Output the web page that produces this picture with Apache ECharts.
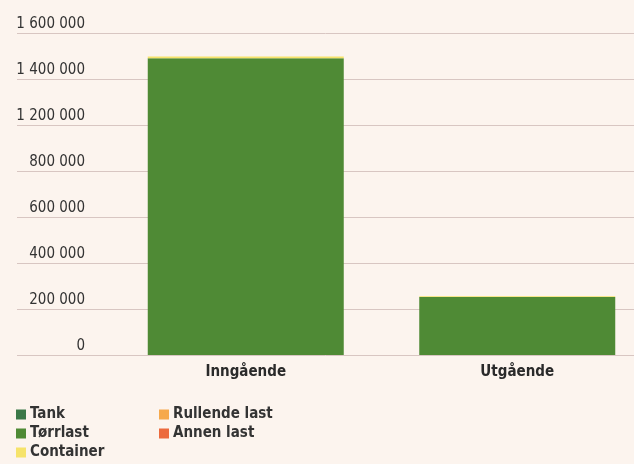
<!DOCTYPE html>
<html><head><meta charset="utf-8">
<script src="https://cdn.jsdelivr.net/npm/echarts@6/dist/echarts.min.js"></script>
<style>html,body{margin:0;padding:0;background:#fcf4ee;}#c{width:634px;height:464px;}</style>
</head><body><div id="c"></div>
<script>
var categories = ['Inngående', 'Utgående'];
var seriesNames = ['Tank', 'Tørrlast', 'Container', 'Rullende last', 'Annen last'];
var tank = [0, 0];
var torrlast = [1290000, 252000];
var container = [8000, 3000];
var rullende = [0, 0];
var annen = [0, 0];
var tickLabels = ['0', '200 000', '400 000', '600 000', '800 000', '1 200 000', '1 400 000', '1 600 000'];
var colors = ['#3b7848', '#4f8a35', '#f6e36a', '#f6a94c', '#ec6a3d'];
var font = 'DejaVu Sans Condensed';

var chart = echarts.init(document.getElementById('c'), null, {renderer: 'canvas'});
var values = [tank, torrlast, container, rullende, annen];
var series = seriesNames.map(function (n, i) {
  return {name: n, type: 'bar', stack: 'all', xAxisIndex: 1, yAxisIndex: 1,
    barWidth: 196, itemStyle: {color: colors[i]}, data: values[i]};
});
series.push({type: 'bar', xAxisIndex: 0, yAxisIndex: 0, data: [], silent: true});
var legendText = {fontFamily: font, fontSize: 15, fontWeight: 'bold', color: '#333', padding: [0,0,0,-1]};
chart.setOption({
  backgroundColor: '#fcf4ee',
  animation: false,
  textStyle: {fontFamily: font},
  legend: [
    {orient: 'vertical', left: 16, top: 407, height: 57, padding: 0, itemWidth: 10, itemHeight: 10, itemGap: 4,
     icon: 'rect', data: seriesNames.slice(0, 3), textStyle: legendText},
    {orient: 'vertical', left: 159, top: 407, height: 57, padding: 0, itemWidth: 10, itemHeight: 10, itemGap: 4,
     icon: 'rect', data: seriesNames.slice(3), textStyle: legendText}
  ],
  grid: [
    {left: 17, right: 0, top: 33, bottom: 109, outerBoundsMode: 'none'},
    {left: 110, width: 543, top: 33, bottom: 109, outerBoundsMode: 'none'}
  ],
  xAxis: [
    {type: 'category', gridIndex: 0, data: categories, show: false},
    {type: 'category', gridIndex: 1, data: categories,
     axisLine: {show: false}, axisTick: {show: false},
     axisLabel: {margin: 10, fontFamily: font, fontSize: 15, fontWeight: 'bold', color: '#2a2a2a'}}
  ],
  yAxis: [
    {type: 'value', gridIndex: 0, min: 0, max: 1400000, interval: 200000,
     axisLine: {show: false}, axisTick: {show: false},
     splitLine: {lineStyle: {color: '#d8c6c2', width: 1}},
     axisLabel: {inside: true, margin: 68, align: 'right', verticalAlign: 'bottom',
       padding: [0, 0, 1, 0], fontFamily: font, fontSize: 15, color: '#333',
       formatter: function (v) { return tickLabels[Math.round(v / 200000)]; }}},
    {type: 'value', gridIndex: 1, min: 0, max: 1400000, interval: 200000, show: false,
     splitLine: {show: false}}
  ],
  series: series
});
</script></body></html>
